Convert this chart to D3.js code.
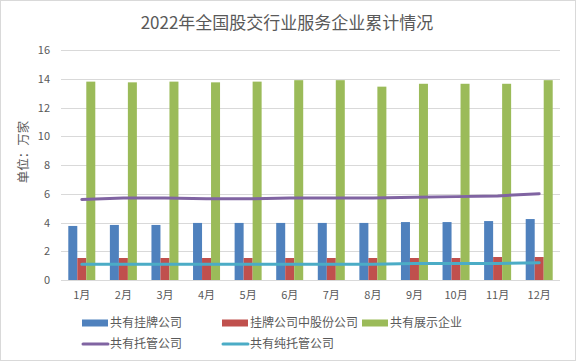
<!DOCTYPE html>
<html>
<head>
<meta charset="utf-8">
<script src="https://cdn.jsdelivr.net/npm/d3@7"></script>
<style>
  body { margin: 0; background: #fff; }
  text { font-family: "Microsoft YaHei", "Noto Sans CJK SC", sans-serif; }
</style>
</head>
<body>
<div id="chart"></div>
<script>
// Données
const months = ["1月","2月","3月","4月","5月","6月","7月","8月","9月","10月","11月","12月"];
const listed    = [3.76, 3.83, 3.83, 3.97, 3.97, 3.97, 3.97, 3.97, 4.03, 4.03, 4.1, 4.24];
const listedJS  = [1.53, 1.53, 1.53, 1.53, 1.53, 1.53, 1.53, 1.53, 1.53, 1.53, 1.6, 1.6];
const showcase  = [13.8, 13.75, 13.8, 13.75, 13.8, 13.9, 13.9, 13.45, 13.65, 13.65, 13.65, 13.9];
const custody   = [5.6, 5.7, 5.7, 5.65, 5.65, 5.7, 5.7, 5.7, 5.75, 5.8, 5.85, 6.0];
const pureCust  = [1.1, 1.1, 1.1, 1.1, 1.1, 1.1, 1.1, 1.1, 1.15, 1.15, 1.15, 1.2];
const yTicks    = [0, 2, 4, 6, 8, 10, 12, 14, 16];

const barSeries = [
  { name: "共有挂牌公司", values: listed, color: "#4F81BD" },
  { name: "挂牌公司中股份公司", values: listedJS, color: "#C0504D" },
  { name: "共有展示企业", values: showcase, color: "#9BBB59" },
];
const lineSeries = [
  { name: "共有托管公司", values: custody, color: "#8064A2" },
  { name: "共有纯托管公司", values: pureCust, color: "#4BACC6" },
];

const W = 576, H = 363;
const margin = { top: 50, right: 16, bottom: 83, left: 61 };
const width = W - margin.left - margin.right;
const height = H - margin.top - margin.bottom;
const font = "\"Microsoft YaHei\", \"Noto Sans CJK SC\", sans-serif";

const svg = d3.select("#chart").append("svg")
  .attr("width", W).attr("height", H);

// cadre
svg.append("rect")
  .attr("x", 0.5).attr("y", 0.5)
  .attr("width", W - 1).attr("height", H - 3)
  .attr("fill", "#fff").attr("stroke", "#d9d9d9");

svg.append("text")
  .attr("x", W / 2 - 1).attr("y", 29)
  .attr("text-anchor", "middle")
  .attr("font-size", "17px")
  .attr("fill", "#595959")
  .text("2022年全国股交行业服务企业累计情况");

const g = svg.append("g").attr("transform", `translate(${margin.left},${margin.top})`);

const x = d3.scaleBand().domain(months).range([0, width]);
const y = d3.scaleLinear().domain([0, 16]).range([height, 0]);
const xs = d3.scaleBand().domain(barSeries.map(d => d.name))
  .range([x.bandwidth() / 2 - 13.5, x.bandwidth() / 2 + 13.5]);

// grille
g.selectAll(".grid").data(yTicks).enter().append("line")
  .attr("x1", 0).attr("x2", width)
  .attr("y1", d => Math.round(y(d)) + 0.5).attr("y2", d => Math.round(y(d)) + 0.5)
  .attr("stroke", "#d9d9d9").attr("stroke-width", 1);

// axe Y
const yAxis = g.append("g").call(d3.axisLeft(y).tickValues(yTicks).tickSize(0).tickPadding(11));
yAxis.select(".domain").remove();
yAxis.selectAll("text").attr("font-size", "11px").attr("fill", "#595959")
  .attr("font-family", font);

// axe X
const xAxis = g.append("g").attr("transform", `translate(0,${height})`)
  .call(d3.axisBottom(x).tickSize(0).tickPadding(11));
xAxis.select(".domain").remove();
xAxis.selectAll("text").attr("font-size", "11px").attr("fill", "#595959")
  .attr("font-family", font);

svg.append("text")
  .attr("transform", "translate(28,152) rotate(-90)")
  .attr("text-anchor", "middle")
  .attr("font-size", "12.5px")
  .attr("fill", "#595959")
  .text("单位：万家");

// barres
barSeries.forEach(s => {
  g.append("g").selectAll("rect").data(s.values).enter().append("rect")
    .attr("x", (d, i) => x(months[i]) + xs(s.name))
    .attr("y", d => y(d))
    .attr("width", xs.bandwidth())
    .attr("height", d => y(0) - y(d))
    .attr("fill", s.color);
});

// lignes
lineSeries.forEach(s => {
  const line = d3.line()
    .x((d, i) => x(months[i]) + x.bandwidth() / 2)
    .y(d => y(d));
  g.append("path").datum(s.values)
    .attr("d", line)
    .attr("fill", "none")
    .attr("stroke", s.color)
    .attr("stroke-width", 3)
    .attr("stroke-linecap", "round");
});

// légende
const legendItems = [
  { s: barSeries[0], type: "bar", x: 82, y: 323 },
  { s: barSeries[1], type: "bar", x: 222, y: 323 },
  { s: barSeries[2], type: "bar", x: 362, y: 323 },
  { s: lineSeries[0], type: "line", x: 82, y: 344 },
  { s: lineSeries[1], type: "line", x: 222, y: 344 },
];
const lg = svg.append("g");
legendItems.forEach(it => {
  if (it.type === "bar") {
    lg.append("rect").attr("x", it.x).attr("y", it.y - 3.5)
      .attr("width", 26).attr("height", 7).attr("fill", it.s.color);
  } else {
    lg.append("line").attr("x1", it.x + 1).attr("x2", it.x + 26)
      .attr("y1", it.y).attr("y2", it.y)
      .attr("stroke", it.s.color).attr("stroke-width", 3).attr("stroke-linecap", "round");
  }
  lg.append("text").attr("x", it.x + 28).attr("y", it.y)
    .attr("dy", "0.35em")
    .attr("font-size", "12px").attr("fill", "#595959")
    .text(it.s.name);
});
</script>
</body>
</html>
